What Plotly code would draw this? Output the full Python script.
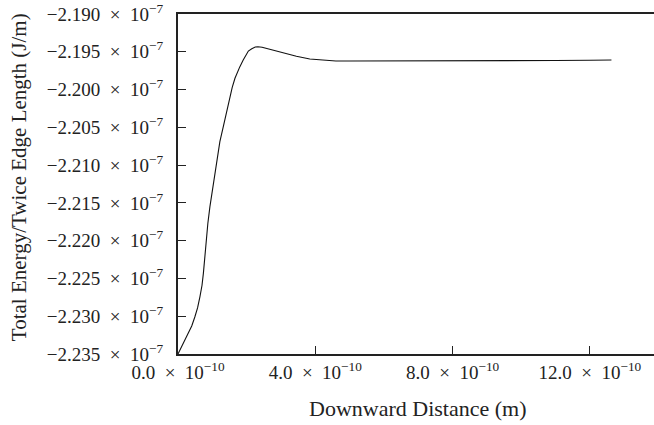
import plotly.graph_objects as go

# Data (x in metres, y in J/m)
distance_m = [v * 1e-10 for v in [
    0.00, 0.10, 0.20, 0.30, 0.40, 0.49, 0.57, 0.64, 0.70, 0.74, 0.78, 0.81,
    0.87, 0.93, 1.00, 1.08, 1.15, 1.22, 1.32, 1.40, 1.45, 1.51, 1.58, 1.66,
    1.75, 1.80, 1.90, 1.98, 2.05, 2.15, 2.25, 2.33, 2.45, 2.70, 3.06, 3.45,
    3.84, 4.32, 4.60, 5.00, 6.00, 7.00, 8.00, 9.00, 10.00, 11.00, 12.00, 12.63]]
energy_per_len = [v * 1e-7 for v in [
    -2.2350, -2.2341, -2.2333, -2.2323, -2.2313, -2.2301, -2.2289, -2.2274,
    -2.2259, -2.2243, -2.2222, -2.2199, -2.2177, -2.2155, -2.2133, -2.2111,
    -2.2090, -2.2069, -2.2049, -2.2032, -2.2021, -2.2010, -2.1997, -2.1985,
    -2.1975, -2.1970, -2.1961, -2.1954, -2.1949, -2.1946, -2.19437, -2.19433,
    -2.1944, -2.1947, -2.19513, -2.1956, -2.19596, -2.19618, -2.19622, -2.19623,
    -2.19623, -2.19623, -2.19623, -2.19622, -2.19620, -2.19616, -2.19612, -2.19609]]

SP = "\u2002"  # en space around the multiplication sign
x_tick_nums = [0.0, 4.0, 8.0, 12.0]
x_tick_vals = [v * 1e-10 for v in x_tick_nums]
x_tick_text = [("%.1f" % v) + SP + "×" + SP + "10<sup>−10</sup>" for v in x_tick_nums]
y_tick_nums = [-2.190, -2.195, -2.200, -2.205, -2.210, -2.215, -2.220, -2.225, -2.230, -2.235]
y_tick_vals = [v * 1e-7 for v in y_tick_nums]
y_tick_text = [("−%.3f" % abs(v)) + SP + "×" + SP + "10<sup>−7</sup>" for v in y_tick_nums]

x_title = "Downward Distance (m)"
y_title = "Total Energy/Twice Edge Length (J/m)"

FONT = "Liberation Serif"
AXC = "#222222"
TXT = "#222222"

fig = go.Figure()
fig.add_trace(go.Scatter(x=distance_m, y=energy_per_len, mode="lines",
                         line=dict(color="#111111", width=1.1), showlegend=False))

fig.update_layout(
    width=654, height=425,
    margin=dict(l=178, r=0, t=14, b=71),
    paper_bgcolor="white", plot_bgcolor="white",
    font=dict(family=FONT, size=19, color=TXT),
    xaxis=dict(range=[0, 13.87e-10], tickvals=x_tick_vals, ticktext=x_tick_text,
               ticks="inside", ticklen=8, tickwidth=1, tickcolor=AXC,
               showline=True, linecolor=AXC, linewidth=2, mirror=True,
               showgrid=False, zeroline=False, tickfont=dict(size=19),
               ticklabeloverflow="allow"),
    yaxis=dict(range=[-2.235e-7, -2.190e-7], tickvals=y_tick_vals, ticktext=y_tick_text,
               ticks="inside", ticklen=8, tickwidth=1, tickcolor=AXC,
               showline=True, linecolor=AXC, linewidth=2, mirror=False,
               showgrid=False, zeroline=False, tickfont=dict(size=19),
               ticklabeloverflow="allow", ticklabelstandoff=9),
    annotations=[
        dict(text=x_title, xref="paper", yref="paper", x=0.504, y=-0.159,
             xanchor="center", yanchor="middle", showarrow=False,
             font=dict(family=FONT, size=22, color=TXT)),
        dict(text=y_title, xref="paper", yref="paper", x=-0.334, y=0.52,
             xanchor="center", yanchor="middle", textangle=-90, showarrow=False,
             font=dict(family=FONT, size=21, color=TXT)),
    ],
)

fig.write_html("out.html", config={"displayModeBar": False},
               post_script="document.body.style.margin='0';")
